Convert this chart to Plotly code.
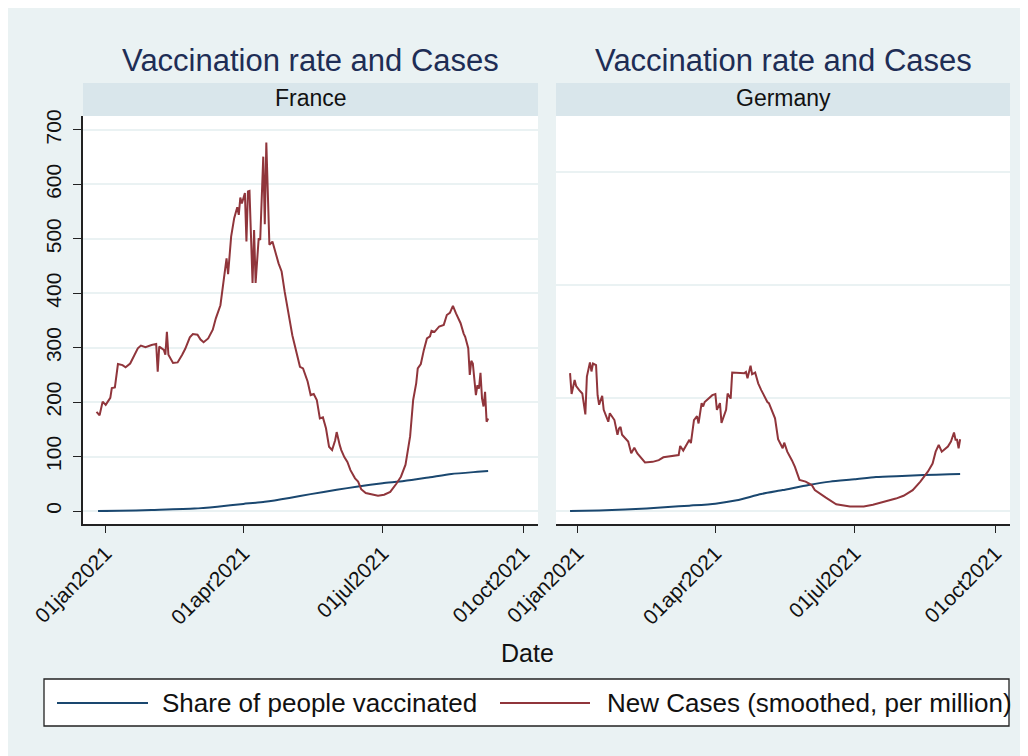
import plotly.graph_objects as go
import pandas as pd

# ---------------- data ----------------
fr_case_dates = ["2020-12-26","2020-12-28","2020-12-30","2021-01-01","2021-01-04","2021-01-05","2021-01-07",
    "2021-01-09","2021-01-12","2021-01-14","2021-01-17","2021-01-19","2021-01-22","2021-01-24","2021-01-27",
    "2021-01-31","2021-02-03","2021-02-04","2021-02-05","2021-02-08","2021-02-09","2021-02-10","2021-02-11",
    "2021-02-14","2021-02-17","2021-02-20","2021-02-22","2021-02-25","2021-02-27","2021-03-02","2021-03-04",
    "2021-03-06","2021-03-09","2021-03-12","2021-03-14","2021-03-17","2021-03-19","2021-03-21","2021-03-22",
    "2021-03-24","2021-03-26","2021-03-28","2021-03-29","2021-03-30","2021-03-31","2021-04-02","2021-04-03",
    "2021-04-04","2021-04-05","2021-04-07","2021-04-08","2021-04-09","2021-04-11","2021-04-12","2021-04-14",
    "2021-04-15","2021-04-16","2021-04-18","2021-04-20","2021-04-22","2021-04-24","2021-04-26","2021-04-28",
    "2021-05-03","2021-05-06","2021-05-08","2021-05-10","2021-05-13","2021-05-15","2021-05-17","2021-05-19",
    "2021-05-21","2021-05-23","2021-05-25","2021-05-27","2021-05-29","2021-05-31","2021-06-01","2021-06-03",
    "2021-06-04","2021-06-06","2021-06-08","2021-06-10","2021-06-13","2021-06-15","2021-06-17","2021-06-20",
    "2021-06-24","2021-06-28","2021-07-02","2021-07-06","2021-07-10","2021-07-13","2021-07-16","2021-07-18",
    "2021-07-19","2021-07-21","2021-07-23","2021-07-24","2021-07-26","2021-07-28","2021-07-30","2021-08-01",
    "2021-08-02","2021-08-04","2021-08-07","2021-08-10","2021-08-12","2021-08-14","2021-08-16","2021-08-18",
    "2021-08-21","2021-08-23","2021-08-24","2021-08-26","2021-08-27","2021-08-28","2021-08-29","2021-08-31",
    "2021-09-01","2021-09-02","2021-09-03","2021-09-04","2021-09-05","2021-09-06","2021-09-07","2021-09-08"]
fr_case_values = [182,176,201,195,208,226,227,
    270,268,264,271,283,299,304,301,
    305,307,256,302,296,287,329,287,
    272,273,287,298,319,325,324,315,
    310,317,333,354,378,424,464,435,
    504,538,558,544,576,565,584,495,
    587,588,419,516,419,501,498,651,
    527,677,489,495,473,455,440,403,
    323,290,265,262,238,213,215,204,
    170,172,152,118,112,130,145,121,
    112,99,90,75,60,54,40,33,
    30,28,30,35,50,63,85,118,
    137,204,235,262,270,296,317,321,
    331,329,339,342,360,364,377,363,
    345,326,320,299,250,276,271,213,
    231,225,254,207,192,219,164,170]

fr_vacc_dates = ["2020-12-27","2021-01-10","2021-01-31","2021-02-28","2021-03-15","2021-04-01","2021-04-15",
    "2021-05-01","2021-05-15","2021-06-01","2021-06-15","2021-07-01","2021-07-15","2021-08-01","2021-08-15",
    "2021-09-01","2021-09-08"]
fr_vacc_values = [0,0.3,2,4.5,8,13,17,24,31,39,45,51,55,62,68,72,73.5]

de_case_dates = ["2020-12-27","2020-12-28","2020-12-30","2020-12-31","2021-01-02","2021-01-04","2021-01-06",
    "2021-01-07","2021-01-09","2021-01-10","2021-01-11","2021-01-13","2021-01-14","2021-01-15","2021-01-17",
    "2021-01-18","2021-01-21","2021-01-22","2021-01-25","2021-01-27","2021-01-28","2021-01-29","2021-01-30",
    "2021-02-03","2021-02-05","2021-02-07","2021-02-09","2021-02-14","2021-02-19","2021-02-23","2021-02-26",
    "2021-03-08","2021-03-09","2021-03-11","2021-03-15","2021-03-16","2021-03-18","2021-03-20","2021-03-21",
    "2021-03-23","2021-03-24","2021-03-25","2021-03-30","2021-04-01","2021-04-02","2021-04-04","2021-04-05",
    "2021-04-08","2021-04-09","2021-04-11","2021-04-12","2021-04-16","2021-04-20","2021-04-21","2021-04-22",
    "2021-04-24","2021-04-25","2021-04-27","2021-04-29","2021-05-01","2021-05-05","2021-05-06","2021-05-08",
    "2021-05-10","2021-05-12","2021-05-15","2021-05-16","2021-05-18","2021-05-21","2021-05-23","2021-05-26",
    "2021-05-30","2021-06-03","2021-06-05","2021-06-12","2021-06-19","2021-06-28","2021-07-07","2021-07-13",
    "2021-07-20","2021-07-28","2021-08-02","2021-08-08","2021-08-13","2021-08-18","2021-08-21","2021-08-23",
    "2021-08-25","2021-08-27","2021-08-31","2021-09-02","2021-09-04","2021-09-05","2021-09-06","2021-09-07",
    "2021-09-08"]
de_case_values = [244,207,232,221,214,208,171,
    238,263,247,261,258,205,188,204,
    179,158,173,161,135,146,149,135,
    123,102,112,102,86,87,90,95,
    99,115,107,126,120,161,168,155,
    191,185,193,205,207,179,191,156,
    179,208,199,245,245,244,246,235,
    257,242,245,226,214,193,191,176,
    164,127,111,121,105,90,78,55,
    52,46,37,24,12,8,8,11,
    16,22,27,37,52,70,84,105,
    117,105,114,123,139,126,126,111,
    127]

de_vacc_dates = ["2020-12-27","2021-01-15","2021-02-01","2021-02-15","2021-03-01","2021-03-15","2021-04-01",
    "2021-04-15","2021-05-01","2021-05-15","2021-06-01","2021-06-15","2021-07-01","2021-07-15","2021-08-01",
    "2021-08-15","2021-09-01","2021-09-08"]
de_vacc_values = [0,1,2.5,4.5,7,9.5,13,19,30,37,46,52,56,60,62,63.5,65,65.5]

date_tick_vals = ["2021-01-01","2021-04-01","2021-07-01","2021-10-01"]
date_tick_text = ["01jan2021","01apr2021","01jul2021","01oct2021"]
fr_y_ticks = [0,100,200,300,400,500,600,700]
de_y_ticks = [0,200,400,600]

panel_names = ["France","Germany"]
series_names = ["Share of people vaccinated","New Cases (smoothed, per million)"]

# ---------------- styling ----------------
OFF = 8                      # page body margin in the screenshot
W, H = 1028 - OFF, 756 - OFF  # figure size so it fills the window
BG = "#eaf2f3"
STRIP = "#d9e6eb"
NAVY = "#1a476f"
MAROON = "#90353b"
TITLE_C = "#1e2d55"
AX = "#222222"
FONT = "Liberation Sans, Arial, sans-serif"

def fx(x):
    return (x - OFF) / W

def fy(y):
    return 1 - (y - OFF) / H

# pixel calibration of the panels (screenshot pixels)
PLOT_TOP, PLOT_BOT = 116, 524
FR_X0, FR_X1 = 83, 538
DE_X0, DE_X1 = 556, 1010
JAN1 = pd.Timestamp("2021-01-01")
PX_PER_DAY = 1.5297

def xrange_for(left, right, jan_px):
    return [str(JAN1 + pd.Timedelta(days=(left - jan_px) / PX_PER_DAY)),
            str(JAN1 + pd.Timedelta(days=(right - jan_px) / PX_PER_DAY))]

fr_xr = xrange_for(FR_X0, FR_X1, 105.7)
de_xr = xrange_for(DE_X0, DE_X1, 577.7)
fr_k = 0.5443
de_k = 0.565
fr_yr = [-(PLOT_BOT - 511) / fr_k, (511 - PLOT_TOP) / fr_k]
de_yr = [-(PLOT_BOT - 511) / de_k, (511 - PLOT_TOP) / de_k]

fig = go.Figure()
fig.add_trace(go.Scatter(x=fr_vacc_dates, y=fr_vacc_values, mode="lines", name=series_names[0],
                         line=dict(color=NAVY, width=2, shape="spline", smoothing=0.6),
                         xaxis="x", yaxis="y", showlegend=False))
fig.add_trace(go.Scatter(x=fr_case_dates, y=fr_case_values, mode="lines", name=series_names[1],
                         line=dict(color=MAROON, width=2), xaxis="x", yaxis="y", showlegend=False))
fig.add_trace(go.Scatter(x=de_vacc_dates, y=de_vacc_values, mode="lines", name=series_names[0],
                         line=dict(color=NAVY, width=2, shape="spline", smoothing=0.6),
                         xaxis="x2", yaxis="y2", showlegend=False))
fig.add_trace(go.Scatter(x=de_case_dates, y=de_case_values, mode="lines", name=series_names[1],
                         line=dict(color=MAROON, width=2), xaxis="x2", yaxis="y2", showlegend=False))

xcommon = dict(type="date", tickmode="array", tickvals=date_tick_vals, ticktext=date_tick_text,
               tickangle=-45, ticks="outside", ticklen=7, tickwidth=1.3, tickcolor=AX,
               showline=True, linecolor=AX, linewidth=1.5, showgrid=False, zeroline=False,
               automargin=False, ticklabelstandoff=0,
               tickfont=dict(family=FONT, size=21, color="#111"), fixedrange=True)
ydom = [fy(PLOT_BOT), fy(PLOT_TOP)]

fig.update_layout(
    width=W, height=H,
    margin=dict(l=0, r=0, t=0, b=0, autoexpand=False),
    paper_bgcolor=BG,
    plot_bgcolor="white",
    showlegend=False,
    font=dict(family=FONT),
    xaxis=dict(domain=[fx(FR_X0), fx(FR_X1)], range=fr_xr, anchor="y", **xcommon),
    xaxis2=dict(domain=[fx(DE_X0), fx(DE_X1)], range=de_xr, anchor="y2", **xcommon),
    yaxis=dict(domain=ydom, range=fr_yr, anchor="x", tickmode="array", tickvals=fr_y_ticks,
               tickangle=-90, ticks="outside", ticklen=8, tickwidth=1.3, tickcolor=AX,
               showline=True, linecolor=AX, linewidth=1.5, gridcolor=BG, gridwidth=2,
               zeroline=False, ticklabelstandoff=4, automargin=False, fixedrange=True,
               tickfont=dict(family=FONT, size=21, color="#111")),
    yaxis2=dict(domain=ydom, range=de_yr, anchor="x2", tickmode="array", tickvals=de_y_ticks,
                showticklabels=False, ticks="", showline=False, gridcolor=BG, gridwidth=2,
                zeroline=False, automargin=False, fixedrange=True),
)

shapes = [
    dict(type="rect", xref="paper", yref="paper", x0=fx(FR_X0), x1=fx(FR_X1), y0=fy(PLOT_TOP), y1=fy(83),
         fillcolor=STRIP, line=dict(width=0), layer="below"),
    dict(type="rect", xref="paper", yref="paper", x0=fx(DE_X0), x1=fx(DE_X1), y0=fy(PLOT_TOP), y1=fy(83),
         fillcolor=STRIP, line=dict(width=0), layer="below"),
    # legend box and key lines
    dict(type="rect", xref="paper", yref="paper", x0=fx(44), x1=fx(1009), y0=fy(726), y1=fy(679),
         fillcolor="white", line=dict(color=AX, width=1.3), layer="below"),
    dict(type="line", xref="paper", yref="paper", x0=fx(57), x1=fx(148), y0=fy(703), y1=fy(703),
         line=dict(color=NAVY, width=2)),
    dict(type="line", xref="paper", yref="paper", x0=fx(500), x1=fx(590), y0=fy(703), y1=fy(703),
         line=dict(color=MAROON, width=2)),
]
fig.update_layout(shapes=shapes)

annotations = []
for name, x0, x1 in [(panel_names[0], FR_X0, FR_X1), (panel_names[1], DE_X0, DE_X1)]:
    cx = fx((x0 + x1) / 2)
    annotations.append(dict(text="Vaccination rate and Cases", x=cx, y=fy(60), xref="paper", yref="paper",
                            xanchor="center", yanchor="middle", showarrow=False,
                            font=dict(family=FONT, size=31, color=TITLE_C)))
    annotations.append(dict(text=name, x=cx, y=fy(98), xref="paper", yref="paper",
                            xanchor="center", yanchor="middle", showarrow=False,
                            font=dict(family=FONT, size=23, color="#111")))
annotations.append(dict(text="Date", x=fx(527), y=fy(653), xref="paper", yref="paper",
                        xanchor="center", yanchor="middle", showarrow=False,
                        font=dict(family=FONT, size=25, color="#111")))
annotations.append(dict(text=series_names[0], x=fx(160), y=fy(703), xref="paper", yref="paper",
                        xanchor="left", yanchor="middle", showarrow=False,
                        font=dict(family=FONT, size=26, color="#111")))
annotations.append(dict(text=series_names[1], x=fx(605), y=fy(703), xref="paper", yref="paper",
                        xanchor="left", yanchor="middle", showarrow=False,
                        font=dict(family=FONT, size=26, color="#111")))
fig.update_layout(annotations=annotations)

fig.write_html("out.html")
